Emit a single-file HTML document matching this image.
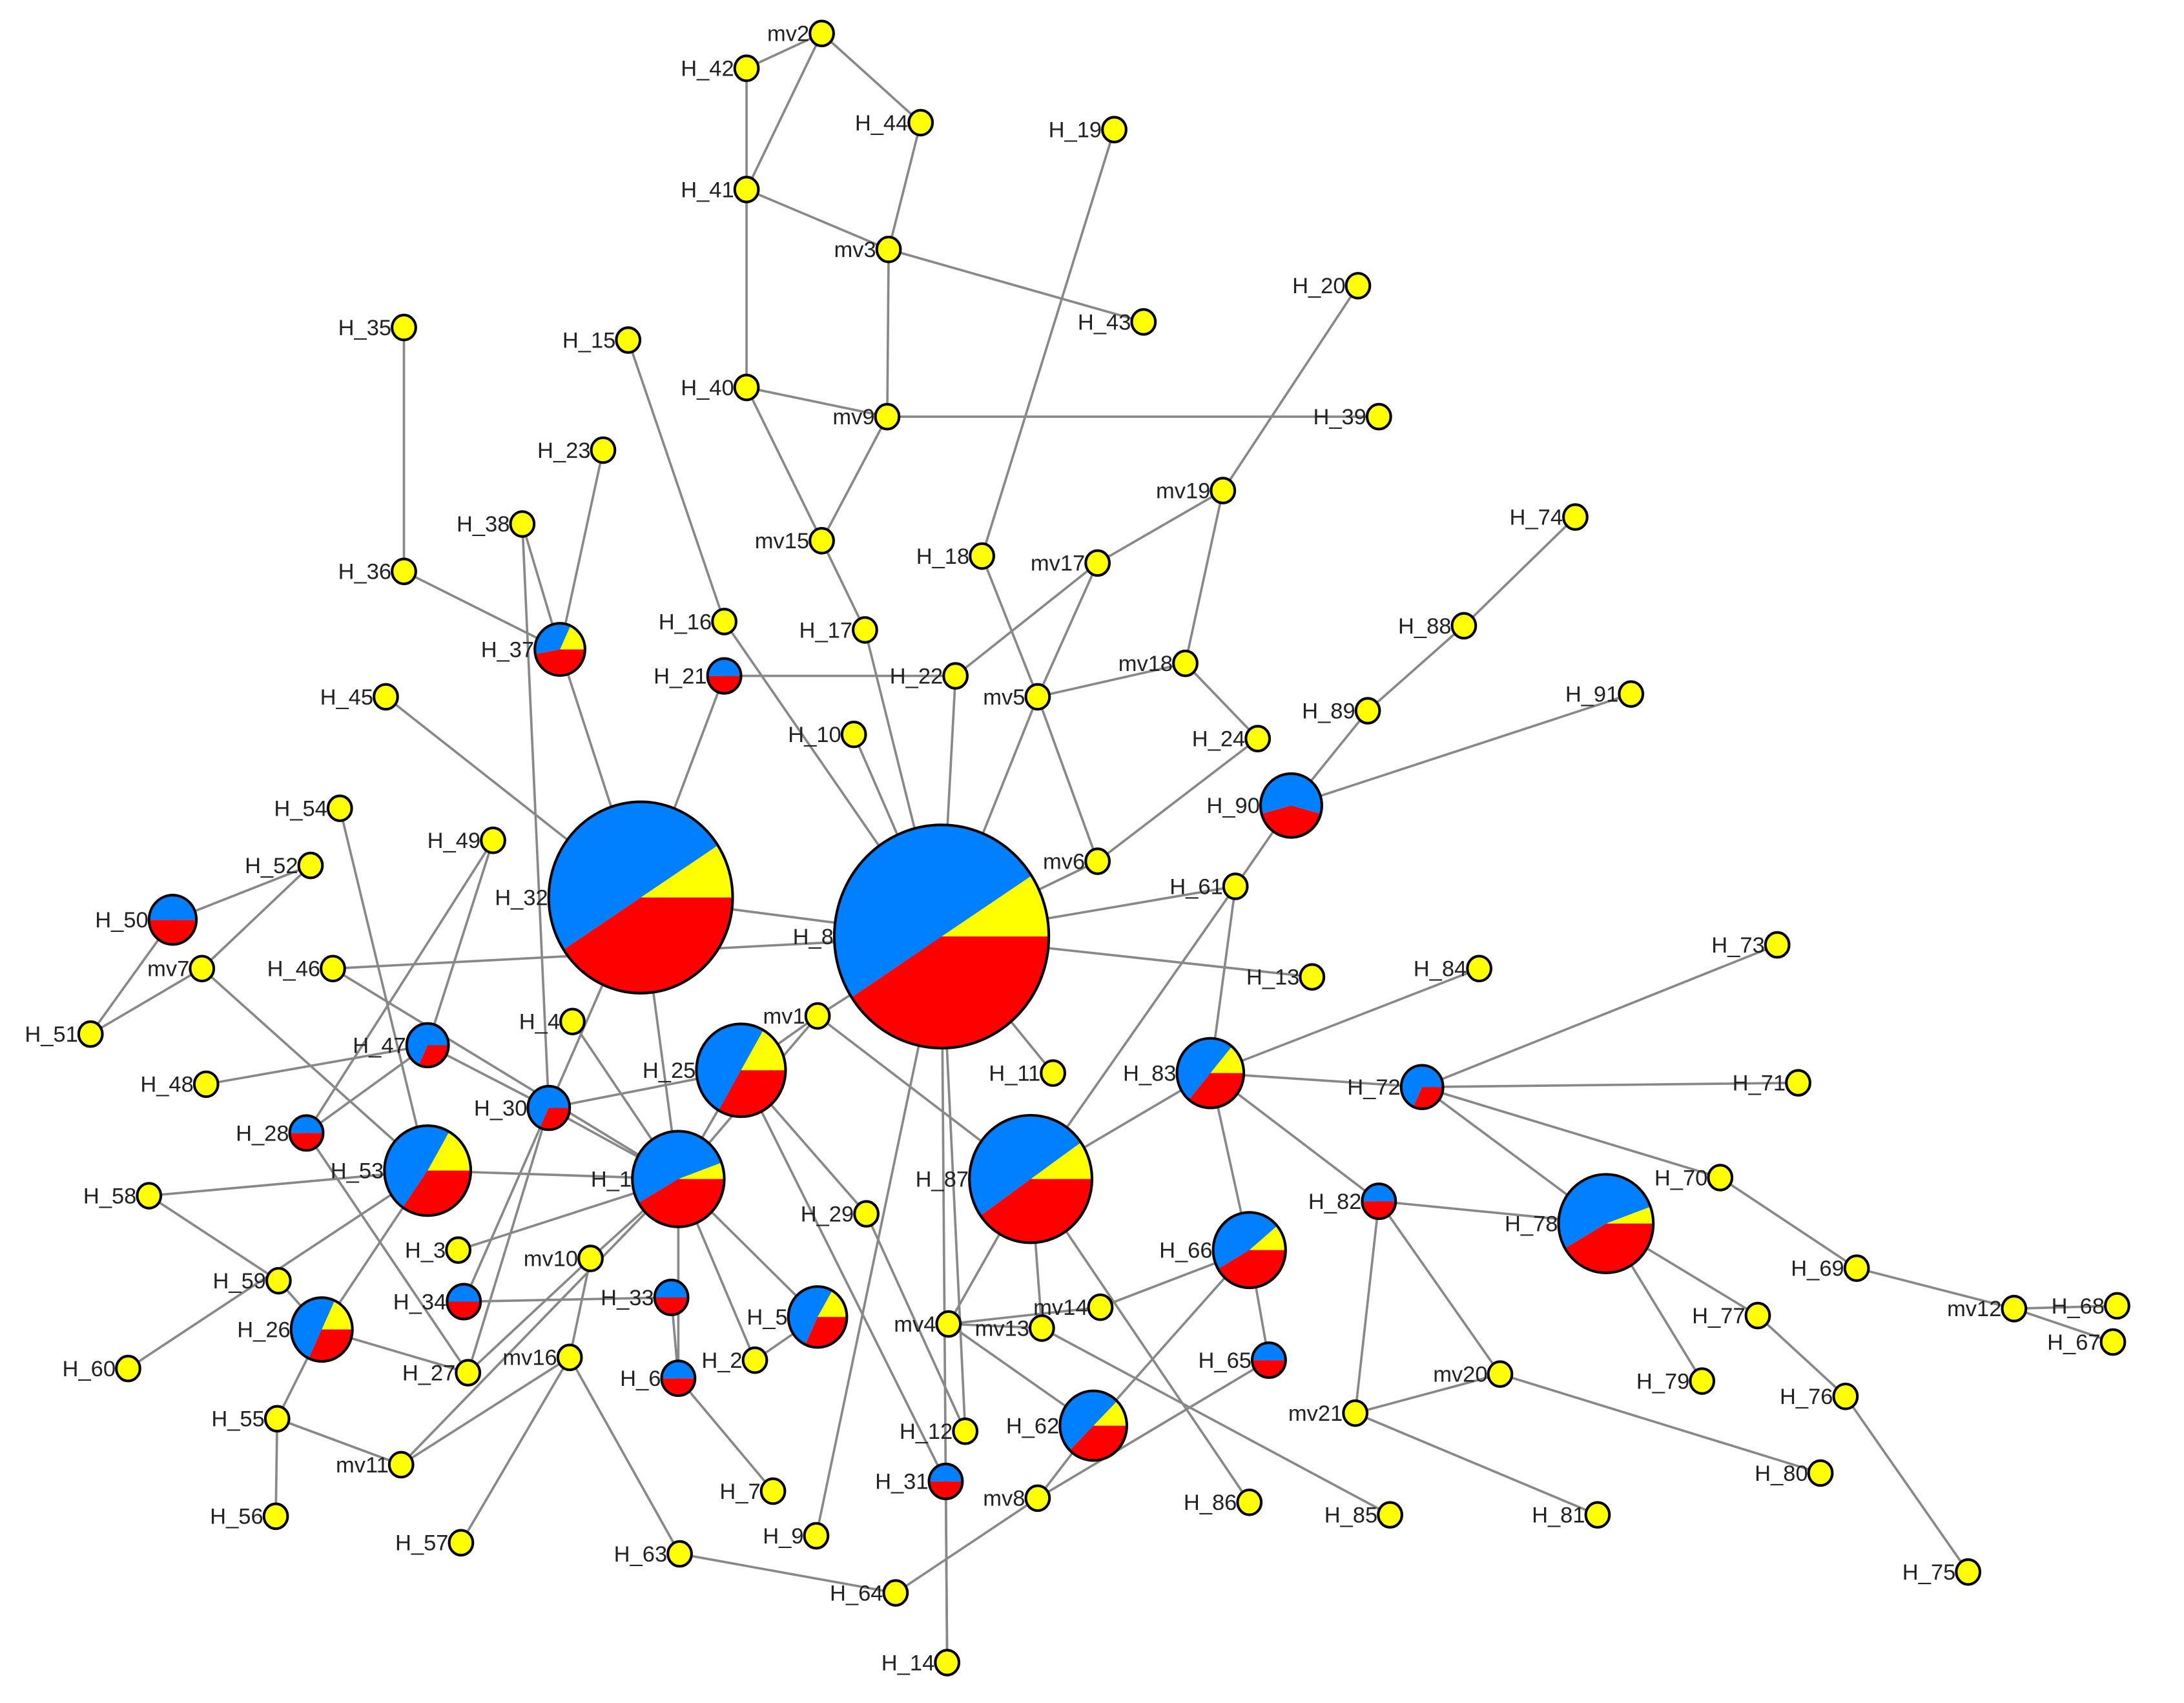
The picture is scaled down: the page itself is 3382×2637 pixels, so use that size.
<!DOCTYPE html>
<html><head><meta charset="utf-8">
<style>html,body{margin:0;padding:0;background:#fff;}svg{display:block}</style>
</head><body>
<svg id="g" xmlns="http://www.w3.org/2000/svg" width="3382" height="2637" viewBox="0 0 1568 1222" preserveAspectRatio="none">
<rect width="1568" height="1222" fill="#fff"/>
<g id="edges" stroke="#888" stroke-width="1.7" fill="none"></g>
<g id="nodes"></g>
<g id="labels" font-family="Liberation Sans, Arial, sans-serif" font-size="16" fill="#222" text-anchor="end"></g>
</svg>
<script>
var N={
"mv2":[590,24],"H_42":[536,49],"H_44":[661,88],"H_41":[536,136],"mv3":[638,179],"H_19":[800,93],
"H_43":[821,231],"H_20":[975,205],"H_35":[290,235],"H_15":[451,244],"H_40":[536,278],"mv9":[637,299],
"H_39":[990,299],"H_23":[433,323],"mv19":[878,352],"H_74":[1131,371],"H_38":[375,376],"mv15":[590,388],
"H_18":[705,399],"mv17":[788,404],"H_36":[290,410],"H_16":[520,446],"H_17":[621,452],"H_88":[1051,449],
"mv18":[851,476],"H_37":[402,466,18],"H_21":[520,485,12],"H_22":[686,485],"mv5":[745,500],"H_45":[277,500],
"H_89":[982,510],"H_91":[1171,498],"H_10":[613,527],"H_24":[903,530],"H_90":[927,578,22],"H_54":[244,580],
"H_49":[354,603],"H_52":[223,621],"mv6":[788,618],"H_32":[460,644,66],"H_61":[887,636],"H_50":[124,660,17],
"H_8":[676,672,77],"H_46":[239,695],"mv7":[145,695],"H_13":[942,701],"H_84":[1062,695],"H_73":[1276,678],
"H_51":[65,742],"H_4":[411,733],"mv1":[587,729],"H_47":[307,750,15],"H_83":[869,770,24],"H_72":[1021,780,15],
"H_71":[1291,777],"H_11":[756,770],"H_25":[532,768,32],"H_48":[148,778],"H_30":[394,795,15],"H_28":[220,813,12],
"H_53":[307,840,31],"H_1":[487,846,33],"H_87":[740,846,44],"H_70":[1235,845],"H_82":[990,862,12],"H_78":[1153,878,34],
"H_58":[107,858],"H_29":[622,871],"H_3":[329,897],"H_66":[897,897,26],"mv10":[424,903],"H_69":[1333,910],
"H_59":[200,919],"H_34":[333,934,12],"H_33":[482,931,12],"H_5":[587,945,21],"mv14":[790,938],"mv12":[1446,939],
"H_68":[1520,937],"H_77":[1262,944],"H_26":[231,954,22],"mv4":[681,950],"mv13":[748,953],"H_67":[1517,963],
"H_2":[542,976],"H_65":[911,976,12],"mv16":[409,974],"H_6":[487,989,12],"H_60":[92,982],"H_27":[336,985],
"mv20":[1077,986],"H_79":[1222,991],"H_76":[1325,1002],"H_55":[199,1018],"mv21":[973,1014],"H_62":[785,1023,24],
"H_12":[693,1027],"mv11":[288,1051],"H_80":[1307,1057],"H_31":[679,1063,12],"H_7":[555,1070],"mv8":[745,1075],
"H_86":[897,1078],"H_85":[998,1087],"H_81":[1147,1087],"H_56":[198,1088],"H_9":[586,1102],"H_57":[331,1107],
"H_63":[488,1115],"H_75":[1413,1128],"H_64":[643,1143],"H_14":[680,1193]};
var P={"H_8":[-33,147],"H_32":[-33,147],"H_87":[-35,145],"H_1":[-20,150],"H_25":[-60,120],"H_53":[-60,125],
"H_5":[-60,115],"H_26":[-65,115],"H_66":[-40,150],"H_83":[-50,130],"H_78":[-20,150],"H_62":[-45,135],"H_37":[-65,170],
"H_47":[0,115],"H_72":[0,115],"H_30":[0,115],"H_90":[15,165,1]};
var E="mv2-H_42 mv2-H_41 mv2-H_44 H_42-H_41 H_41-mv3 H_44-mv3 H_41-H_40 mv3-H_43 mv3-mv9 H_40-mv9 mv9-H_39 H_40-mv15 mv9-mv15 mv15-H_17 H_17-H_8 H_19-H_18 H_18-mv5 mv5-mv6 H_20-mv19 mv19-mv17 mv19-mv18 mv17-H_22 mv17-mv5 mv5-mv18 mv18-H_24 mv5-H_8 H_22-H_8 H_22-H_21 H_21-H_32 H_15-H_16 H_16-H_8 H_10-H_8 H_35-H_36 H_36-H_37 H_23-H_37 H_38-H_37 H_38-H_30 H_37-H_32 H_45-H_32 mv6-H_24 mv6-H_8 H_74-H_88 H_88-H_89 H_89-H_90 H_90-H_91 H_90-H_61 H_61-H_8 H_61-H_83 H_61-H_87 H_8-H_13 H_8-H_32 H_8-H_46 H_8-H_11 H_8-mv1 H_8-H_12 H_8-H_14 H_8-H_9 H_32-H_30 H_32-H_1 H_4-H_1 mv1-H_25 mv1-H_1 mv1-H_87 H_25-H_30 H_30-H_1 H_25-H_1 H_25-H_29 H_29-H_12 H_25-H_31 H_46-H_1 H_47-H_30 H_49-H_47 H_49-H_28 H_54-H_53 H_48-H_47 H_28-H_47 H_28-H_27 mv7-H_53 mv7-H_52 mv7-H_51 H_50-H_52 H_50-H_51 H_53-H_1 H_58-H_53 H_58-H_59 H_59-H_26 H_60-H_53 H_26-H_53 H_26-H_27 H_26-H_55 H_55-H_56 H_55-mv11 mv11-mv16 mv11-H_1 H_27-H_30 H_34-H_30 H_34-H_33 H_27-mv10 mv10-H_1 mv10-mv16 mv16-H_57 mv16-H_63 H_3-H_1 H_1-H_6 H_6-H_33 H_6-H_7 H_1-H_2 H_1-H_5 H_2-H_5 H_63-H_64 H_64-mv8 mv8-H_62 mv8-H_65 H_62-H_66 H_62-mv4 mv4-H_87 mv4-mv14 mv14-H_66 mv4-mv13 mv13-H_85 mv13-H_87 H_87-H_86 H_87-H_83 H_83-H_84 H_83-H_72 H_83-H_66 H_83-H_82 H_66-H_65 H_72-H_73 H_72-H_71 H_72-H_70 H_72-H_78 H_82-H_78 H_82-mv21 H_82-mv20 mv20-mv21 mv20-H_80 mv21-H_81 H_78-H_77 H_78-H_79 H_77-H_76 H_76-H_75 H_70-H_69 H_69-mv12 mv12-H_68 mv12-H_67 H_31-H_14";
var NS="http://www.w3.org/2000/svg";
function el(t,a,p){var e=document.createElementNS(NS,t);for(var k in a)e.setAttribute(k,a[k]);p.appendChild(e);return e;}
var ge=document.getElementById("edges"),gn=document.getElementById("nodes"),gl=document.getElementById("labels");
E.split(" ").forEach(function(s){var ab=s.split("-"),a=N[ab[0]],b=N[ab[1]];if(!a||!b)return;
 el("line",{x1:a[0],y1:a[1],x2:b[0],y2:b[1]},ge);});
function pt(c,r,d){var t=d*Math.PI/180;return [c[0]+r*Math.cos(t),c[1]+r*1.04*Math.sin(t)];}
function wedge(c,r,a0,a1,col){if(a1<=a0)return;var p0=pt(c,r,a0),p1=pt(c,r,a1),lg=(a1-a0)>180?1:0;
 el("path",{d:"M"+c[0]+","+c[1]+"L"+p0[0]+","+p0[1]+"A"+r+","+(r*1.04)+" 0 "+lg+" 1 "+p1[0]+","+p1[1]+"Z",fill:col},gn);}
for(var k in N){var c=N[k],r=c[2]||8.5;
 if(P[k]){var p=P[k];
  if(p[2]){wedge(c,r,p[0],p[1],"#ff0000");wedge(c,r,p[1],p[0]+360,"#0080ff");}
  else{wedge(c,r,p[0],0,"#ffff00");wedge(c,r,0,p[1],"#ff0000");wedge(c,r,p[1],p[0]+360,"#0080ff");}
  el("ellipse",{cx:c[0],cy:c[1],rx:r,ry:r*1.04,fill:"none",stroke:"#000","stroke-width":1.9},gn);
 }else if(c[2]){wedge(c,r,0,180,"#ff0000");wedge(c,r,180,360,"#0080ff");
  el("ellipse",{cx:c[0],cy:c[1],rx:r,ry:r*1.04,fill:"none",stroke:"#000","stroke-width":1.9},gn);
 }else{el("ellipse",{cx:c[0],cy:c[1],rx:r,ry:r*1.05,fill:"#ffff00",stroke:"#000","stroke-width":1.9},gn);}
 var t=el("text",{x:c[0]-r-0.5,y:c[1]+5.5},gl);t.textContent=k;}
</script>
</body></html>
